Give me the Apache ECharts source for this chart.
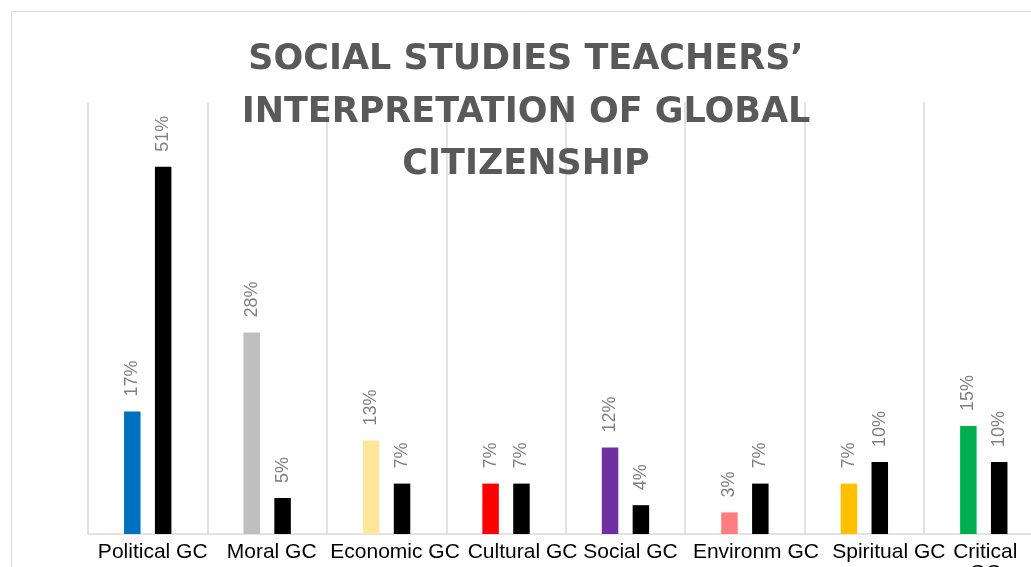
<!DOCTYPE html>
<html>
<head>
<meta charset="utf-8">
<script src="https://cdn.jsdelivr.net/npm/echarts@6/dist/echarts.min.js"></script>
<style>
  html, body { margin: 0; padding: 0; background: #fff; }
  #chart { width: 1031px; height: 567px; }
</style>
</head>
<body>
<div id="chart"></div>
<script>
// ---- data ----
const titleText = 'SOCIAL STUDIES TEACHERS’\nINTERPRETATION OF GLOBAL\nCITIZENSHIP';
const categories = ['Political GC', 'Moral GC', 'Economic GC', 'Cultural GC', 'Social GC', 'Environm GC', 'Spiritual GC', 'Critical\nGC'];
const seriesA = [17, 28, 13, 7, 12, 3, 7, 15];
const seriesB = [51, 5, 7, 7, 4, 7, 10, 10];
const colorsA = ['#0070C0', '#BFBFBF', '#FFE699', '#FF0000', '#7030A0', '#FF7C80', '#FFC000', '#00B050'];
const colorB = '#000000';

// horizontal nudge (px) of each category label, as in the reference layout
const labelShift = [5, 4.5, 8.5, 16.5, 5, 11, 24.5, 1.5];

const chart = echarts.init(document.getElementById('chart'), null, { renderer: 'canvas' });

const labelCfg = {
  show: true,
  position: 'top',
  rotate: 90,
  align: 'left',
  verticalAlign: 'middle',
  distance: 15,
  color: '#808080',
  fontFamily: 'Liberation Sans',
  fontSize: 18,
  formatter: p => p.value + '%'
};

const axisFont = { color: '#000000', fontFamily: 'Liberation Sans', fontSize: 21 };
const rich = {};
labelShift.forEach((s, i) => {
  rich['s' + i] = Object.assign({ padding: [0, 0, 0, 2 * s] }, axisFont);
});

chart.setOption({
  animation: false,
  backgroundColor: '#ffffff',
  title: {
    text: titleText,
    left: 521,
    top: 29,
    textAlign: 'center',
    textStyle: {
      fontFamily: 'DejaVu Sans',
      fontWeight: 'bold',
      fontSize: 35,
      lineHeight: 52.5,
      color: '#595959'
    }
  },
  graphic: [{
    type: 'rect',
    silent: true,
    z: -10,
    shape: { x: 11.5, y: 11.5, width: 1030, height: 600 },
    style: { fill: 'none', stroke: '#D9D9D9', lineWidth: 1 }
  }],
  grid: {
    left: 88,
    right: -12.5,
    top: 102,
    bottom: 33,
    containLabel: false,
    outerBoundsMode: 'none'
  },
  xAxis: {
    type: 'category',
    data: categories,
    axisLine: { show: true, lineStyle: { color: '#D9D9D9', width: 1.5 } },
    axisTick: { show: false },
    splitLine: { show: true, lineStyle: { color: '#D9D9D9', width: 1.5 } },
    axisLabel: Object.assign({
      interval: 0,
      margin: 8,
      hideOverlap: false,
      formatter: (v, i) => v.split('\n').map(l => '{s' + i + '|' + l + '}').join('\n'),
      rich: rich
    }, axisFont)
  },
  yAxis: {
    type: 'value',
    min: 0,
    max: 60,
    show: false,
    splitLine: { show: false }
  },
  series: [
    {
      name: 'A',
      type: 'bar',
      data: seriesA.map((v, i) => ({ value: v, itemStyle: { color: colorsA[i] } })),
      barWidth: 16.5,
      barGap: '87%',
      label: labelCfg
    },
    {
      name: 'B',
      type: 'bar',
      data: seriesB,
      barWidth: 16.5,
      itemStyle: { color: colorB },
      label: labelCfg
    }
  ]
});
</script>
</body>
</html>
